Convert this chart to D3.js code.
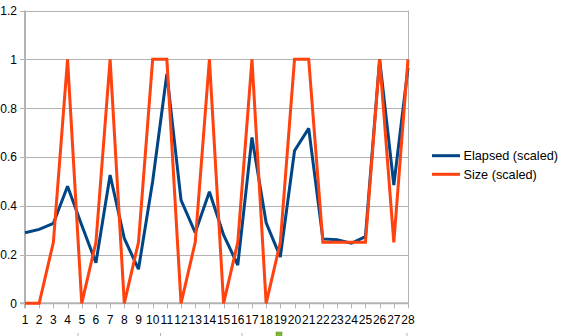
<!DOCTYPE html>
<html>
<head>
<meta charset="utf-8">
<script src="https://cdn.jsdelivr.net/npm/d3@7"></script>
<style>
  body { margin: 0; background: #fff; }
  svg { display: block; font-family: "Liberation Sans", Arial, sans-serif; }
</style>
</head>
<body>
<svg id="chart" width="562" height="336"></svg>
<script>
const runs = d3.range(1, 29);
const elapsed = [0.289, 0.303, 0.328, 0.48, 0.32, 0.166, 0.526, 0.266, 0.14, 0.5,
  0.94, 0.423, 0.29, 0.457, 0.28, 0.157, 0.68, 0.33, 0.19, 0.625,
  0.717, 0.264, 0.26, 0.246, 0.273, 1.0, 0.485, 0.965];
const size = [0, 0, 0.25, 1, 0, 0.25, 1, 0, 0.25, 1,
  1, 0, 0.25, 1, 0, 0.25, 1, 0, 0.25, 1,
  1, 0.25, 0.25, 0.25, 0.25, 1, 0.25, 1];
const yTicks = [0, 0.2, 0.4, 0.6, 0.8, 1, 1.2];
const series = [
  { name: "Elapsed (scaled)", values: elapsed, color: "#004586" },
  { name: "Size (scaled)", values: size, color: "#ff420e" }
];

const svg = d3.select("#chart");
const plotL = 25, plotR = 408, plotT = 10.5, plotB = 303.3;

const x = d3.scalePoint().domain(runs).range([plotL, plotR]);
const y = d3.scaleLinear().domain([0, 1.2]).range([plotB, plotT]);

// gridlines
svg.append("g")
  .selectAll("line")
  .data(yTicks)
  .join("line")
  .attr("x1", plotL - 5)
  .attr("x2", plotR)
  .attr("y1", d => Math.round(y(d)) + 0.5)
  .attr("y2", d => Math.round(y(d)) + 0.5)
  .attr("stroke", "#b3b3b3")
  .attr("stroke-width", 1);

// right border
svg.append("line")
  .attr("x1", plotR + 0.5).attr("x2", plotR + 0.5)
  .attr("y1", plotT).attr("y2", plotB + 4)
  .attr("stroke", "#b3b3b3");

// y labels
svg.append("g")
  .selectAll("text")
  .data(yTicks)
  .join("text")
  .attr("x", 17)
  .attr("y", d => y(d) + 4.5)
  .attr("text-anchor", "end")
  .attr("font-size", 12)
  .attr("fill", "#000")
  .text(d => d);

// x ticks
svg.append("g")
  .selectAll("line")
  .data(runs)
  .join("line")
  .attr("x1", d => Math.round(x(d)) + 0.5)
  .attr("x2", d => Math.round(x(d)) + 0.5)
  .attr("y1", plotB)
  .attr("y2", plotB + 5)
  .attr("stroke", "#b3b3b3");

svg.append("g")
  .selectAll("text")
  .data(runs)
  .join("text")
  .attr("x", d => x(d))
  .attr("y", 324)
  .attr("text-anchor", "middle")
  .attr("font-size", 12)
  .attr("fill", "#000")
  .text(d => d);

// axis lines
svg.append("line")
  .attr("x1", plotL).attr("x2", plotL)
  .attr("y1", plotT).attr("y2", plotB + 5)
  .attr("stroke", "#b3b3b3").attr("stroke-width", 2);
svg.append("line")
  .attr("x1", plotL - 5).attr("x2", plotR)
  .attr("y1", plotB).attr("y2", plotB)
  .attr("stroke", "#b3b3b3").attr("stroke-width", 2);

// lines
const line = d3.line()
  .x((d, i) => x(runs[i]))
  .y(d => y(d));

svg.append("g")
  .selectAll("path")
  .data(series)
  .join("path")
  .attr("d", d => line(d.values))
  .attr("fill", "none")
  .attr("stroke", d => d.color)
  .attr("stroke-width", 3)
  .attr("stroke-linejoin", "miter")
  .attr("stroke-miterlimit", 2);

// legend
const legend = svg.append("g")
  .selectAll("g")
  .data(series)
  .join("g")
  .attr("transform", (d, i) => `translate(432,${155.7 + i * 18.6})`);
legend.append("line")
  .attr("x1", 0).attr("x2", 28)
  .attr("stroke", d => d.color)
  .attr("stroke-width", 3);
legend.append("text")
  .attr("x", 31.5)
  .attr("y", 4.6)
  .attr("font-size", 12.7)
  .attr("fill", "#000")
  .text(d => d.name);

// bits of the lower chart edge showing at the bottom
svg.append("g")
  .selectAll("line")
  .data([78, 160.5, 242, 407])
  .join("line")
  .attr("x1", d => d).attr("x2", d => d)
  .attr("y1", 333).attr("y2", 336)
  .attr("stroke", "#b3b3b3");
svg.append("rect")
  .attr("x", 276).attr("y", 332)
  .attr("width", 6).attr("height", 5)
  .attr("fill", "#7eb832").attr("stroke", "#5a8a1e").attr("stroke-width", 0.5);
</script>
</body>
</html>
